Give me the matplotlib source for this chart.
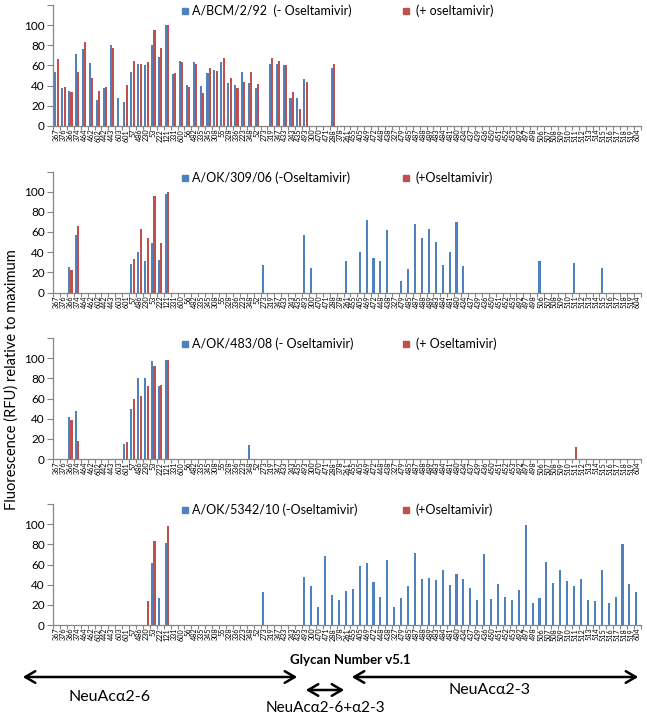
import matplotlib
matplotlib.use("Agg")
import matplotlib.pyplot as plt
from matplotlib.patches import Rectangle, FancyArrowPatch
import numpy as np

plt.rcParams['font.family'] = ['Lato', 'DejaVu Sans']

glycans = ["367","376","366","374","464","462","602","442","443","603",
           "601","57","486","230","53","222","121","331","600","56",
           "482","335","345","308","55","328","336","223","348","52",
           "273","319","347","433","243","435","493","300","470","471",
           "288","378","261","455","405","469","472","448","438","327",
           "479","485","487","488","489","483","484","481","480","434",
           "437","439","436","450","451","452","453","492","497","498",
           "506","507","508","509","510","511","512","513","514","515",
           "516","517","518","519","604"]

bcm_minus = [54,38,35,71,76,62,26,38,80,28,
             24,54,61,60,80,68,100,52,64,41,
             63,40,53,56,63,43,41,54,43,38,
             0,61,61,60,28,28,47,0,0,0,
             58,0,0,0,0,0,0,0,0,0,
             0,0,0,0,0,0,0,0,0,0,
             0,0,0,0,0,0,0,0,0,0,
             0,0,0,0,0,0,0,0,0,0,
             0,0,0,0,0]
bcm_plus = [66,39,34,54,83,48,35,39,77,0,
            41,64,61,63,95,77,100,53,63,39,
            61,33,58,55,67,48,38,44,54,42,
            0,67,64,60,34,17,44,0,0,0,
            61,0,0,0,0,0,0,0,0,0,
            0,0,0,0,0,0,0,0,0,0,
            0,0,0,0,0,0,0,0,0,0,
            0,0,0,0,0,0,0,0,0,0,
            0,0,0,0,0]

ok309_minus = [0,0,25,57,0,0,0,0,0,0,
               0,28,40,31,49,32,98,0,0,0,
               0,0,0,0,0,0,0,0,0,0,
               27,0,0,0,0,0,57,24,0,0,
               0,0,31,0,40,72,34,31,62,0,
               11,23,68,54,63,50,27,40,70,26,
               0,0,0,0,0,0,0,0,0,0,
               31,0,0,0,0,29,0,0,0,24,
               0,0,0,0,0]
ok309_plus = [0,0,22,66,0,0,0,0,0,0,
              0,33,63,54,96,49,100,0,0,0,
              0,0,0,0,0,0,0,0,0,0,
              0,0,0,0,0,0,0,0,0,0,
              0,0,0,0,0,0,0,0,0,0,
              0,0,0,0,0,0,0,0,0,0,
              0,0,0,0,0,0,0,0,0,0,
              0,0,0,0,0,0,0,0,0,0,
              0,0,0,0,0]

ok483_minus = [0,0,42,48,0,0,0,0,0,0,
               15,50,80,80,97,72,98,0,0,0,
               0,0,0,0,0,0,0,0,14,0,
               0,0,0,0,0,0,0,0,0,0,
               0,0,0,0,0,0,0,0,0,0,
               0,0,0,0,0,0,0,0,0,0,
               0,0,0,0,0,0,0,0,0,0,
               0,0,0,0,0,0,0,0,0,0,
               0,0,0,0,0]
ok483_plus = [0,0,39,18,0,0,0,0,0,0,
              17,60,62,72,92,73,98,0,0,0,
              0,0,0,0,0,0,0,0,0,0,
              0,0,0,0,0,0,0,0,0,0,
              0,0,0,0,0,0,0,0,0,0,
              0,0,0,0,0,0,0,0,0,0,
              0,0,0,0,0,0,0,0,0,0,
              0,0,0,0,0,12,0,0,0,0,
              0,0,0,0,0]

ok5342_minus = [0,0,0,0,0,0,0,0,0,0,
                0,0,0,0,61,27,81,0,0,0,
                0,0,0,0,0,0,0,0,0,0,
                33,0,0,0,0,0,48,39,18,68,
                30,25,34,36,59,61,43,28,64,18,
                27,39,71,46,47,45,55,40,51,46,
                37,25,70,26,41,28,25,35,99,22,
                27,62,42,55,44,39,46,25,24,55,
                22,28,80,41,33]
ok5342_plus = [0,0,0,0,0,0,0,0,0,0,
               0,0,0,24,83,0,98,0,0,0,
               0,0,0,0,0,0,0,0,0,0,
               0,0,0,0,0,0,0,0,0,0,
               0,0,0,0,0,0,0,0,0,0,
               0,0,0,0,0,0,0,0,0,0,
               0,0,0,0,0,0,0,0,0,0,
               0,0,0,0,0,0,0,0,0,0,
               0,0,0,0,0]

legend_minus = ["A/BCM/2/92  (- Oseltamivir)", "A/OK/309/06 (-Oseltamivir)",
                "A/OK/483/08 (- Oseltamivir)", "A/OK/5342/10 (-Oseltamivir)"]
legend_plus = ["(+ oseltamivir)", "(+Oseltamivir)", "(+ Oseltamivir)", "(+Oseltamivir)"]

panels = [(bcm_minus, bcm_plus), (ok309_minus, ok309_plus),
          (ok483_minus, ok483_plus), (ok5342_minus, ok5342_plus)]

BLUE = "#4F81BD"
RED = "#C0504D"
GRAY = "#868686"

W, H = 647, 715
fig = plt.figure(figsize=(W / 100, H / 100), dpi=100)

def fx(px):
    return px / W

def fy(py):
    return 1 - py / H

tops = [5, 171.5, 338, 504]
ax_h = 121
ax_left, ax_right = 53, 641
x = np.arange(len(glycans))

for i, (minus, plus) in enumerate(panels):
    top = tops[i]
    ax = fig.add_axes([fx(ax_left), fy(top + ax_h), (ax_right - ax_left) / W, ax_h / H])
    ax.bar(x - 0.17, minus, width=0.3, color=BLUE, zorder=2)
    ax.bar(x + 0.17, plus, width=0.3, color=RED, zorder=2)
    ax.set_xlim(-0.5, len(glycans) - 0.5)
    ax.set_ylim(0, 120)
    ax.set_yticks(np.arange(0, 121, 20))
    ax.set_yticklabels(["0", "20", "40", "60", "80", "100", ""], fontsize=8.5)
    ax.set_xticks(x)
    ax.set_xticklabels(glycans, rotation=90, fontsize=5.2)
    ax.set_xticks(np.arange(-0.5, len(glycans), 1), minor=True)
    ax.tick_params(axis='x', which='major', length=0, pad=2)
    ax.tick_params(axis='x', which='minor', length=3, color=GRAY, width=0.8)
    ax.tick_params(axis='y', length=4, color=GRAY, width=0.8, pad=2)
    for s in ['top', 'right']:
        ax.spines[s].set_visible(False)
    for s in ['left', 'bottom']:
        ax.spines[s].set_color(GRAY)
        ax.spines[s].set_linewidth(0.9)
    # legend
    ly = top + 6
    fig.add_artist(Rectangle((fx(182), fy(ly + 3)), 6 / W, 6 / H,
                             transform=fig.transFigure, color=BLUE))
    fig.text(fx(192), fy(ly), legend_minus[i], fontsize=9, va='center', ha='left')
    fig.add_artist(Rectangle((fx(403), fy(ly + 3)), 6 / W, 6 / H,
                             transform=fig.transFigure, color=RED))
    fig.text(fx(416), fy(ly), legend_plus[i], fontsize=9, va='center', ha='left')

fig.text(fx(12), fy(380), "Fluorescence (RFU) relative to maximum", rotation=90,
         fontsize=10.5, va='center', ha='center')
fig.text(fx(350), fy(660), "Glycan Number v5.1", fontsize=9.5, fontweight='bold',
         va='center', ha='center')

def arrow(x0, x1, y):
    fig.add_artist(FancyArrowPatch((fx(x0), fy(y)), (fx(x1), fy(y)),
                                   transform=fig.transFigure,
                                   arrowstyle='<->,head_length=0.6,head_width=0.35',
                                   mutation_scale=12, lw=1.8, color='black'))

arrow(20, 300, 677)
arrow(303, 347, 690)
arrow(349, 641, 677)
fig.text(fx(110), fy(697), "NeuAc\u03b12-6", fontsize=11.5, va='center', ha='center')
fig.text(fx(325), fy(708), "NeuAc\u03b12-6+\u03b12-3", fontsize=11, va='center', ha='center')
fig.text(fx(490), fy(690), "NeuAc\u03b12-3", fontsize=11.5, va='center', ha='center')

fig.savefig("out.png", dpi=100)
